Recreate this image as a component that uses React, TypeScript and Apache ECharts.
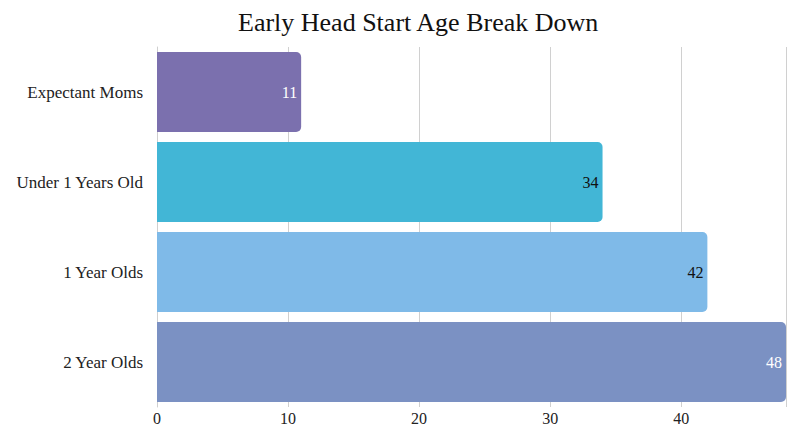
import React, { useEffect, useRef } from "react";
import * as echarts from "echarts";

const categories = ["Expectant Moms", "Under 1 Years Old", "1 Year Olds", "2 Year Olds"];
const values = [11, 34, 42, 48];
const barColors = ["#7B70AE", "#42B6D6", "#7FBAE8", "#7B91C3"];
const labelColors = ["#FFFFFF", "#111111", "#111111", "#FFFFFF"];
const xTicks = [0, 10, 20, 30, 40];

export default function App() {
  const ref = useRef<HTMLDivElement>(null);
  useEffect(() => {
    if (!ref.current) return;
    const chart = echarts.init(ref.current, undefined, { renderer: "svg" });
    const serif = "'Liberation Serif', 'DejaVu Serif', serif";
    chart.setOption({
      animation: false,
      title: {
        text: "Early Head Start Age Break Down",
        left: 233,
        top: 4,
        textStyle: { fontFamily: serif, fontSize: 26, fontWeight: "normal", color: "#111" },
      },
      grid: { left: 157, right: 9, top: 47, bottom: 19, containLabel: false },
      xAxis: {
        type: "value",
        min: 0,
        max: 48,
        interval: 10,
        axisLine: { show: false },
        axisTick: { show: false },
        splitLine: { show: true, lineStyle: { color: "#d0d0d0", width: 1 } },
        axisLabel: {
          fontFamily: serif,
          fontSize: 16,
          color: "#222",
          margin: 3,
          showMaxLabel: false,
          formatter: (v: number) => (xTicks.includes(v) ? String(v) : ""),
        },
      },
      yAxis: {
        type: "category",
        data: categories,
        inverse: true,
        axisLine: { show: true, lineStyle: { color: "#cfcfcf" } },
        axisTick: { show: false },
        axisLabel: { fontFamily: serif, fontSize: 17, color: "#222", margin: 14, padding: [0, 0, 3, 0] },
      },
      series: [
        {
          type: "bar",
          barCategoryGap: "11%",
          data: values.map((v, i) => ({
            value: v,
            itemStyle: { color: barColors[i], borderRadius: [0, 5, 5, 0] },
            label: { color: labelColors[i] },
          })),
          label: {
            show: true,
            position: "insideRight",
            distance: 4,
            fontFamily: serif,
            fontSize: 16,
          },
        },
      ],
    });
    return () => chart.dispose();
  }, []);
  return (
    <div
      ref={ref}
      style={{ position: "absolute", left: 0, top: 0, width: 795, height: 426 }}
    />
  );
}
